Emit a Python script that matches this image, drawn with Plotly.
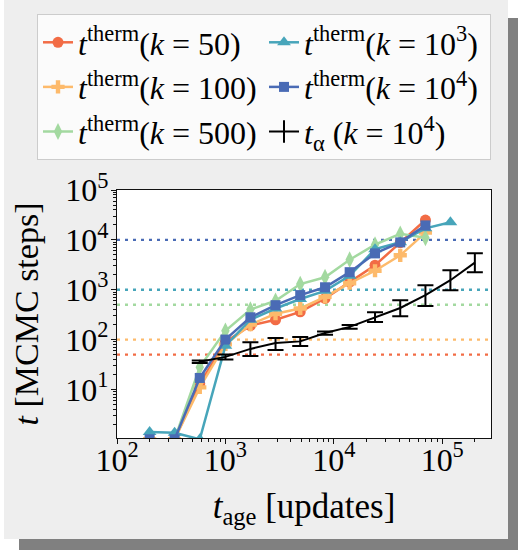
import plotly.graph_objects as go

# ---------------- data ----------------
t_age = [200, 340, 580, 1000, 1700, 2900, 4900, 8300, 14000, 24000, 41000, 70000, 119000]

therm_k50 = [1.0, 1.0, 13, 90, 190, 250, 360, 670, 1420, 3100, 8800, 25000]
therm_k100 = [1.0, 1.0, 11, 80, 200, 330, 420, 720, 1350, 2400, 4900, 14000]
therm_k500 = [1.0, 1.0, 28, 150, 400, 600, 1300, 1780, 4000, 8000, 13200, 11000]
therm_k1e3 = [1.4, 1.35, 1.0, 75, 250, 420, 650, 950, 1900, 6500, 9000, 17000, 22500]
therm_k1e4 = [1.0, 1.0, 17, 100, 280, 490, 780, 1120, 2250, 5350, 8900, 19500]

alpha_x = [580, 1000, 1700, 2900, 4900, 8300, 14000, 24000, 41000, 70000, 119000, 200000]
alpha_y = [36, 45, 65, 85, 92, 135, 180, 280, 430, 780, 1550, 3500]
alpha_lo = [34, 40, 47, 62, 74, 125, 165, 224, 295, 470, 980, 2240]
alpha_hi = [38, 50, 88, 107, 112, 145, 195, 355, 615, 1230, 2450, 5370]

k_values = [50, 100, 500, 1000, 10000]

x_tickvals = [1e2, 1e3, 1e4, 1e5]
x_ticktext = ["10<sup>2</sup>", "10<sup>3</sup>", "10<sup>4</sup>", "10<sup>5</sup>"]
y_tickvals = [1e1, 1e2, 1e3, 1e4, 1e5]
y_ticktext = ["10<sup>1</sup>", "10<sup>2</sup>", "10<sup>3</sup>", "10<sup>4</sup>", "10<sup>5</sup>"]

# ---------------- style ----------------
C_RED = "#f26c45"
C_ORA = "#fdba6b"
C_GRN = "#a3d9a0"
C_TEA = "#47a5ba"
C_BLU = "#4a6bb5"

FONT = "Liberation Serif"
W, H = 518, 550
L, R, T, B = 117, 27, 190, 112
PW, PH = W - L - R, H - T - B


def px2x(px):
    return (px - L) / PW


def py2y(py):
    return 1 - (py - T) / PH


XR = [2.0, 5.45]
YR = [0.026, 5.0]

fig = go.Figure()

# dotted reference lines at t = k
ref_colors = [C_RED, C_ORA, C_GRN, C_TEA, C_BLU]
for k, c in zip(k_values, ref_colors):
    fig.add_trace(go.Scatter(
        x=[10 ** XR[0], 10 ** XR[1]], y=[k, k], mode="lines",
        line=dict(color=c, width=2.4, dash="3px,5px"),
        showlegend=False, hoverinfo="skip"))

series = [
    ("<i>t</i><sup>therm</sup>(<i>k</i> = 50)", therm_k50, C_RED, "circle", 11, 1),
    ("<i>t</i><sup>therm</sup>(<i>k</i> = 100)", therm_k100, C_ORA, "cross", 11, 3),
    ("<i>t</i><sup>therm</sup>(<i>k</i> = 500)", therm_k500, C_GRN, "diamond-tall", 12, 5),
    ("<i>t</i><sup>therm</sup>(<i>k</i> = 10<sup>3</sup>)", therm_k1e3, C_TEA, "triangle-up", 12, 2),
    ("<i>t</i><sup>therm</sup>(<i>k</i> = 10<sup>4</sup>)", therm_k1e4, C_BLU, "square", 10, 4),
]
for name, ys, c, sym, sz, rank in series:
    fig.add_trace(go.Scatter(
        x=t_age[:len(ys)], y=ys, mode="lines+markers", name=name,
        line=dict(color=c, width=2.5),
        marker=dict(color=c, symbol=sym, size=sz, line=dict(width=0)),
        legendrank=rank))

ALPHA_NAME = "<i>t</i><sub>α</sub> (<i>k</i> = 10<sup>4</sup>)"
fig.add_trace(go.Scatter(
    x=alpha_x, y=alpha_y, mode="lines", name=ALPHA_NAME,
    line=dict(color="black", width=2),
    error_y=dict(type="data", symmetric=False,
                 array=[h - v for h, v in zip(alpha_hi, alpha_y)],
                 arrayminus=[v - l for v, l in zip(alpha_y, alpha_lo)],
                 color="black", thickness=2, width=8),
    showlegend=False))
# legend glyph for the error-bar series (line crossed by a vertical bar)
fig.add_trace(go.Scatter(
    x=[None], y=[None], mode="lines+markers", name=ALPHA_NAME,
    line=dict(color="black", width=2),
    marker=dict(symbol="line-ns-open", size=16, color="black", line=dict(width=2, color="black")),
    legendrank=6))

minor_vals = [d * 10 ** e for e in range(0, 6) for d in range(2, 10)]

axis_common = dict(
    type="log", showgrid=False, zeroline=False,
    showline=True, mirror=True, linecolor="#111111", linewidth=1.3,
    ticks="outside", ticklen=5, tickwidth=1.2, tickcolor="#111111",
    tickfont=dict(family=FONT, size=32, color="black"),
    minor=dict(tickvals=minor_vals, ticks="outside", ticklen=3, tickwidth=1, tickcolor="#111111", showgrid=False),
)

fig.update_layout(
    width=W, height=H,
    margin=dict(l=L, r=R, t=T, b=B, autoexpand=False),
    paper_bgcolor="white", plot_bgcolor="white",
    font=dict(family=FONT, color="black"),
    xaxis=dict(axis_common, range=XR, tickvals=x_tickvals, ticktext=x_ticktext,
               ticklabelstandoff=-12,
               title=dict(text="<i>t</i><sub>age</sub> [updates]", font=dict(family=FONT, size=35), standoff=16)),
    yaxis=dict(axis_common, range=YR, tickvals=y_tickvals, ticktext=y_ticktext,
               ticklabelstandoff=-4,
               title=dict(text="<i>t</i> [MCMC steps]", font=dict(family=FONT, size=34), standoff=16)),
    legend=dict(
        orientation="h", x=px2x(37), y=py2y(14), xanchor="left", yanchor="top",
        bgcolor="#fbfbfb", bordercolor="#cccccc", borderwidth=1,
        font=dict(family=FONT, size=32, color="black"),
        entrywidth=181, entrywidthmode="pixels", itemwidth=30, traceorder="normal"),
    shapes=[
        dict(type="rect", xref="paper", yref="paper", layer="below",
             x0=px2x(19), x1=px2x(518), y0=py2y(550), y1=py2y(18),
             fillcolor="#808080", line=dict(width=0)),
        dict(type="rect", xref="paper", yref="paper", layer="below",
             x0=px2x(4), x1=px2x(508), y0=py2y(539), y1=py2y(0),
             fillcolor="#eeeeee", line=dict(width=0)),
        dict(type="rect", xref="paper", yref="paper", layer="below",
             x0=0, x1=1, y0=0, y1=1, fillcolor="white", line=dict(width=0)),
    ],
)

fig.write_html("out.html", config={"displayModeBar": False},
               post_script="document.body.style.margin='0';document.body.style.overflow='hidden';")
